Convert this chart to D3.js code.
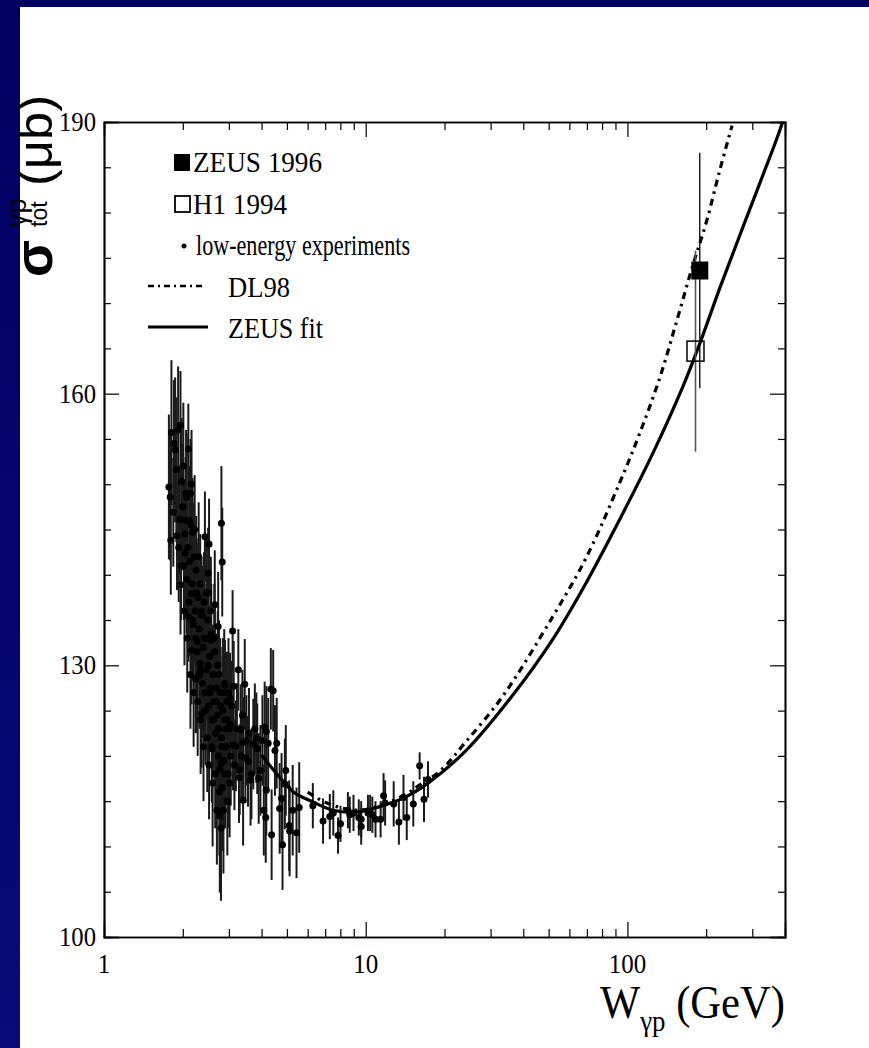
<!DOCTYPE html>
<html>
<head>
<meta charset="utf-8">
<script src="https://cdn.jsdelivr.net/npm/d3@7"></script>
<style>
  html, body { margin: 0; padding: 0; background: #fff; }
  svg { display: block; }
</style>
</head>
<body>
<div id="chart"></div>
<script>
// photoproduction total cross section vs W

// low-energy experiments: W (GeV), sigma (mub), error
const lowW = [1.77, 1.79, 1.80, 1.81, 1.84, 1.85, 1.87, 1.89, 1.90, 1.92, 1.95, 1.96, 1.96, 1.98, 2.04, 2.07,
  2.10, 2.10, 2.14, 2.16, 2.16, 2.18, 2.04, 2.25, 2.27, 2.33, 2.24, 2.43, 2.52, 2.50, 2.51, 2.65, 2.73, 2.81,
  2.83, 2.56, 3.10, 3.26, 2.90, 3.13, 3.45, 4.34, 4.43, 3.03, 2.36, 2.94, 3.03, 3.33, 4.11, 4.17, 3.77, 4.03,
  4.24, 4.57, 4.50, 3.11, 3.19, 3.40, 3.50, 3.72, 3.85, 2.59, 3.35, 3.55, 3.96, 4.95, 3.28, 3.63, 2.81, 4.17,
  4.91, 3.40, 4.77, 4.69, 5.26, 5.57, 4.08, 4.15, 2.77, 5.10, 5.12, 5.44, 4.37, 4.81,
  6.28, 6.87, 7.29, 7.52, 8.01, 7.84, 8.55, 8.69, 8.98, 9.41, 9.61, 9.61, 10.2, 10.4, 10.6, 10.9, 11.4, 11.7,
  11.86, 12.79, 13.39, 13.94, 14.35, 15.2, 16.07, 17.3, 16.7,
  2.00, 2.02, 2.05, 2.07, 2.09, 2.11, 2.13, 2.15, 2.17, 2.19, 2.21, 2.23, 2.25, 2.27, 2.29, 2.31, 2.33, 2.35,
  2.37, 2.39, 2.41, 2.43, 2.45, 2.47, 2.49, 2.51, 2.53, 2.55, 2.57, 2.59, 2.61, 2.63, 2.65, 2.67, 2.69, 2.71,
  2.73, 2.75, 2.77, 2.79, 2.81, 2.83, 2.85, 2.87, 2.89, 2.92, 2.95, 2.98, 3.01, 3.05,
  1.93, 1.97, 2.01, 2.03, 2.06, 2.08, 2.12, 2.14, 2.16, 2.18, 2.20, 2.22, 2.24, 2.26, 2.28, 2.30, 2.32, 2.34,
  2.36, 2.38, 2.40, 2.42, 2.44, 2.46, 2.48, 2.50, 2.52, 2.54, 2.56, 2.58, 2.60, 2.62, 2.64, 2.66, 2.68, 2.70,
  2.72, 2.74, 2.76, 2.78, 2.80, 2.82, 2.84, 2.86, 2.88, 2.90, 2.93, 2.96, 2.99, 3.02,
  3.08, 3.15, 3.22, 3.30, 3.38, 3.47, 3.58, 3.66, 3.82, 3.90];
const lowSig = [149.7, 148.6, 143.8, 155.7, 146.9, 154.5, 153.8, 151.6, 144.3, 156.0, 146.1, 156.5, 138.9, 150.3, 144.5, 148.6,
  153.9, 135.4, 149.0, 137.9, 131.7, 144.7, 142.4, 128.6, 132.6, 130.2, 128.5, 144.2, 143.4, 140.2, 138.0, 136.7, 134.3, 145.7,
  141.4, 132.8, 133.8, 129.5, 127.8, 127.7, 127.9, 127.4, 127.2, 126.4, 124.7, 124.0, 123.5, 122.9, 123.2, 122.7, 123.0, 121.7,
  121.4, 121.4, 120.6, 121.2, 121.1, 121.5, 121.7, 121.3, 120.8, 120.8, 120.0, 119.4, 118.4, 118.4, 117.6, 117.3, 119.2, 116.2,
  116.9, 115.1, 115.3, 114.2, 114.0, 114.3, 114.0, 113.2, 113.4, 112.3, 111.7, 111.5, 111.3, 110.2,
  114.5, 112.8, 113.3, 113.7, 112.5, 111.2, 114.0, 113.5, 113.7, 113.2, 113.0, 112.2, 113.7, 113.7, 113.5, 113.0, 113.0, 115.6,
  114.8, 114.7, 112.7, 115.4, 113.2, 114.7, 118.9, 117.4, 115.2,
  147.5, 141.0, 146.0, 139.5, 143.0, 137.0, 141.5, 145.5, 139.0, 134.5, 142.0, 136.0, 140.5, 131.5, 137.5, 134.0, 139.0, 129.5,
  135.5, 132.0, 137.0, 127.0, 133.0, 129.5, 135.0, 125.5, 131.0, 127.5, 133.5, 124.0, 129.0, 126.0, 131.5, 122.5, 127.5, 124.5,
  120.0, 129.0, 118.5, 125.5, 122.0, 116.5, 127.0, 119.5, 124.0, 121.0, 126.0, 118.0, 123.0, 120.0,
  143.0, 141.0, 152.0, 136.0, 149.0, 133.0, 146.0, 129.0, 150.0, 135.0, 127.0, 145.0, 133.0, 138.0, 126.0, 142.0, 129.0, 124.0,
  136.0, 128.0, 121.0, 133.0, 125.0, 138.0, 122.0, 130.0, 119.0, 127.0, 136.0, 121.0, 117.0, 124.0, 133.0, 118.0, 126.0, 114.0,
  130.0, 123.0, 116.0, 127.0, 112.0, 121.0, 125.0, 114.0, 128.0, 118.0, 123.0, 115.0, 127.0, 117.0,
  125.5, 119.0, 123.0, 118.5, 124.5, 119.8, 122.5, 118.0, 122.0, 117.5];
const lowErr = [8, 7, 6, 8, 6, 7, 8, 8, 6, 7, 6, 6, 5.5, 7, 6, 7,
  5, 5, 6, 6, 6, 6, 6, 6, 6, 6, 6, 5, 5, 5, 5, 6, 6, 6.3,
  6, 5, 4.5, 4.5, 5, 5, 5, 4.5, 4.5, 5, 6, 5, 5, 5, 5, 5, 5, 5,
  5, 5, 5, 5, 5, 5, 5, 5, 5, 6, 5, 5, 5, 5, 5, 5, 6, 5,
  5, 5, 5, 5, 5, 5, 5, 5, 8.5, 5, 5, 5, 5, 5,
  2.5, 2.5, 2.5, 2.5, 2, 2, 2, 2, 2, 2, 2, 2, 2, 2, 2, 2, 2, 2.5,
  2.5, 2.5, 2.5, 2.5, 2.5, 2.5, 1.5, 2, 2.5,
  7, 6, 7, 6, 6, 6, 6, 6, 6, 6, 6, 6, 6, 6, 6, 6, 5.5, 5.5,
  5.5, 5.5, 5.5, 5.5, 5.5, 5.5, 5.5, 5.5, 5.5, 5.5, 5.5, 5.5, 5.5, 5.5, 5.5, 6, 6, 6,
  6, 6, 6.5, 6.5, 6.5, 7, 6, 6.5, 6, 6, 5.5, 6, 5.5, 5.5,
  6, 6, 7, 6, 7, 6, 6, 6, 6, 6, 6, 6, 6, 6, 6, 6, 6, 6,
  6, 6, 6, 6, 6, 6, 6, 6, 6, 6, 6, 6, 7, 6, 6, 6, 6, 6,
  6, 6, 7, 6, 8, 6, 6, 7, 6, 6, 6, 6, 6, 6,
  5, 5, 5, 5, 5, 5, 5, 5, 5, 5];

// HERA points
const zeusW = [189], zeusSig = [173.6], zeusErr = [13];
const h1W = [182], h1Sig = [164.7], h1Err = [11.1];

// ZEUS fit curve
const fitW = [4.0, 4.7, 5.3, 6.3, 7.5, 9.2, 11.3, 14.3, 17.5, 24.2, 36.0, 51.9, 69.5, 93, 125, 163, 191, 225, 284, 364, 392];
const fitSig = [120.1, 117.6, 116.0, 114.9, 114.0, 113.8, 114.4, 115.5, 117.1, 120.6, 126.5, 132.9, 139.1, 146.0,
  153.4, 160.8, 165.9, 171.6, 179.3, 187.4, 190.0];

// DL98 curve
const dlW = [6.0, 7.1, 9.2, 11.3, 14.3, 16.1, 19.2, 24.2, 33.4, 51.9, 69.6, 93.2, 111, 132.4, 153.5, 177, 200, 225, 251];
const dlSig = [116.0, 114.8, 114.0, 114.5, 115.8, 116.8, 118.3, 121.6, 126.6, 135.4, 141.9, 150.1, 155.5, 161.6,
  167.8, 174.0, 178.9, 184.6, 189.6];

const yMajor = [100, 130, 160, 190];
const xMajor = [1, 10, 100];

const W = 869, H = 1048;
const margin = {top: 122, right: 84, bottom: 111, left: 104};

const svg = d3.select("#chart").append("svg")
  .attr("width", W)
  .attr("height", H);

// slide frame
const defs = svg.append("defs");
const grad = defs.append("linearGradient")
  .attr("id", "frameGrad").attr("x1", 0).attr("x2", 0).attr("y1", 0).attr("y2", 1);
grad.append("stop").attr("offset", "0%").attr("stop-color", "#000060");
grad.append("stop").attr("offset", "100%").attr("stop-color", "#0a0a78");
svg.append("rect").attr("width", W).attr("height", H).attr("fill", "#fff");
svg.append("rect").attr("x", 0).attr("y", 0).attr("width", W).attr("height", 7).attr("fill", "#000060");
svg.append("rect").attr("x", 0).attr("y", 0).attr("width", 20).attr("height", H).attr("fill", "url(#frameGrad)");

defs.append("clipPath").attr("id", "plotClip")
  .append("rect")
  .attr("x", margin.left).attr("y", margin.top)
  .attr("width", W - margin.left - margin.right)
  .attr("height", H - margin.top - margin.bottom);

const x = d3.scaleLog().domain([1, 400]).range([margin.left, W - margin.right]);
const y = d3.scaleLinear().domain([100, 190]).range([H - margin.bottom, margin.top]);

const xMinor = [];
[1, 10, 100].forEach(d => { for (let k = 2; k <= 9; k++) if (d * k < 400) xMinor.push(d * k); });
const yMinor = d3.range(100, 191, 5).filter(v => !yMajor.includes(v));

const serif = "'Liberation Serif', 'Times New Roman', serif";

// frame and ticks
function drawAxes() {
  const axisCol = "#000";
  const bottom = svg.append("g").attr("transform", `translate(0,${y(100)})`);
  bottom.call(d3.axisBottom(x).tickValues(xMajor).tickSize(-15).tickFormat(""));
  bottom.append("g").call(d3.axisBottom(x).tickValues(xMinor).tickSize(-8).tickFormat(""));
  const top = svg.append("g").attr("transform", `translate(0,${y(190)})`);
  top.call(d3.axisTop(x).tickValues(xMajor).tickSize(-15).tickFormat(""));
  top.append("g").call(d3.axisTop(x).tickValues(xMinor).tickSize(-8).tickFormat(""));
  const left = svg.append("g").attr("transform", `translate(${x(1)},0)`);
  left.call(d3.axisLeft(y).tickValues(yMajor).tickSize(-15).tickFormat(""));
  left.append("g").call(d3.axisLeft(y).tickValues(yMinor).tickSize(-7).tickFormat(""));
  const right = svg.append("g").attr("transform", `translate(${x(400)},0)`);
  right.call(d3.axisRight(y).tickValues(yMajor).tickSize(-15).tickFormat(""));
  right.append("g").call(d3.axisRight(y).tickValues(yMinor).tickSize(-7).tickFormat(""));

  svg.selectAll(".domain").attr("stroke", axisCol).attr("stroke-width", 1.5);
  svg.selectAll(".tick line").attr("stroke", axisCol).attr("stroke-width", 1.2);
  left.select(".domain").attr("stroke", "#444").attr("stroke-width", 2.2);
  right.select(".domain").attr("stroke", "#444").attr("stroke-width", 2);

  // tick labels
  svg.append("g").selectAll("text")
    .data(yMajor)
    .join("text")
    .attr("x", x(1) - 8)
    .attr("y", d => y(d) + 9)
    .attr("text-anchor", "end")
    .attr("font-family", serif)
    .attr("font-size", 28)
    .attr("textLength", 37)
    .attr("lengthAdjust", "spacingAndGlyphs")
    .text(d => d);

  svg.append("g").selectAll("text")
    .data(xMajor)
    .join("text")
    .attr("x", d => x(d))
    .attr("y", y(100) + 36)
    .attr("text-anchor", "middle")
    .attr("font-family", serif)
    .attr("font-size", 28)
    .attr("textLength", d => String(d).length * 12.5)
    .attr("lengthAdjust", "spacingAndGlyphs")
    .text(d => d);
}
drawAxes();

// axis titles
const xt = svg.append("text")
  .attr("x", 600)
  .attr("y", 1018)
  .attr("font-family", serif)
  .attr("font-size", 46)
  .attr("textLength", 185)
  .attr("lengthAdjust", "spacingAndGlyphs");
xt.append("tspan").text("W");
xt.append("tspan").attr("font-size", 29).attr("dy", 13).text("γp");
xt.append("tspan").attr("dy", -13).text(" (GeV)");

const yt = svg.append("g").attr("transform", "translate(52,277) rotate(-90)")
  .attr("font-family", "'Liberation Sans', Arial, sans-serif");
yt.append("text").attr("x", 0).attr("y", 0).attr("font-size", 54).attr("font-weight", "bold").text("σ");
yt.append("text").attr("x", 50).attr("y", -26).attr("font-size", 27).text("γp");
yt.append("text").attr("x", 50).attr("y", -5).attr("font-size", 23).text("tot");
yt.append("text").attr("x", 91).attr("y", 0).attr("font-size", 48).attr("textLength", 91)
  .attr("lengthAdjust", "spacingAndGlyphs").text("(μb)");

// data
const plot = svg.append("g").attr("clip-path", "url(#plotClip)");
const low = lowW.map((w, i) => ({w: w, s: lowSig[i], e: lowErr[i]}));

plot.append("g").selectAll("line")
  .data(low)
  .join("line")
  .attr("x1", d => x(d.w)).attr("x2", d => x(d.w))
  .attr("y1", d => y(d.s - d.e)).attr("y2", d => y(d.s + d.e))
  .attr("stroke", "#1a1a1a")
  .attr("stroke-width", 2);

plot.append("g").selectAll("circle")
  .data(low)
  .join("circle")
  .attr("cx", d => x(d.w)).attr("cy", d => y(d.s))
  .attr("r", 3.5)
  .attr("fill", "#000");

// curves
const line = d3.line().x(d => x(d[0])).y(d => y(d[1])).curve(d3.curveCatmullRom.alpha(0.5));
plot.append("path")
  .attr("d", line(dlW.map((w, i) => [w, dlSig[i]])))
  .attr("fill", "none")
  .attr("stroke", "#000")
  .attr("stroke-width", 3.2)
  .attr("stroke-dasharray", "7,5,2.5,5");
plot.append("path")
  .attr("d", line(fitW.map((w, i) => [w, fitSig[i]])))
  .attr("fill", "none")
  .attr("stroke", "#000")
  .attr("stroke-width", 3.2);

// HERA points
h1W.forEach((w, i) => {
  plot.append("line")
    .attr("x1", x(w)).attr("x2", x(w))
    .attr("y1", y(h1Sig[i] - h1Err[i])).attr("y2", y(h1Sig[i] + h1Err[i]))
    .attr("stroke", "#555").attr("stroke-width", 1.6);
  plot.append("rect")
    .attr("x", x(w) - 8.5).attr("y", y(h1Sig[i]) - 10)
    .attr("width", 17).attr("height", 20)
    .attr("fill", "none").attr("stroke", "#000").attr("stroke-width", 1.5);
});
zeusW.forEach((w, i) => {
  plot.append("line")
    .attr("x1", x(w)).attr("x2", x(w))
    .attr("y1", y(zeusSig[i] - zeusErr[i])).attr("y2", y(zeusSig[i] + zeusErr[i]))
    .attr("stroke", "#000").attr("stroke-width", 1.3);
  plot.append("rect")
    .attr("x", x(w) - 8.5).attr("y", y(zeusSig[i]) - 9)
    .attr("width", 17).attr("height", 18)
    .attr("fill", "#000");
});

// legend
const leg = svg.append("g").attr("font-family", serif).attr("font-size", 29);
leg.append("rect").attr("x", 174).attr("y", 154).attr("width", 16).attr("height", 17).attr("fill", "#000");
leg.append("text").attr("x", 193).attr("y", 172).attr("textLength", 129).text("ZEUS 1996");
leg.append("rect").attr("x", 175).attr("y", 196).attr("width", 15).attr("height", 16)
  .attr("fill", "none").attr("stroke", "#000").attr("stroke-width", 1.8);
leg.append("text").attr("x", 193).attr("y", 214).attr("textLength", 94).text("H1 1994");
leg.append("circle").attr("cx", 184).attr("cy", 246).attr("r", 2.5).attr("fill", "#000");
leg.append("text").attr("x", 196).attr("y", 255).attr("textLength", 214).text("low-energy experiments");
leg.append("line").attr("x1", 148).attr("x2", 203).attr("y1", 286).attr("y2", 286)
  .attr("stroke", "#000").attr("stroke-width", 2.5).attr("stroke-dasharray", "6,4,2,4");
leg.append("text").attr("x", 228).attr("y", 297).attr("textLength", 62).text("DL98");
leg.append("line").attr("x1", 148).attr("x2", 208).attr("y1", 327).attr("y2", 327)
  .attr("stroke", "#000").attr("stroke-width", 2.8);
leg.append("text").attr("x", 228).attr("y", 338).attr("textLength", 95).text("ZEUS fit");
leg.selectAll("text").attr("lengthAdjust", "spacingAndGlyphs");
</script>
</body>
</html>
